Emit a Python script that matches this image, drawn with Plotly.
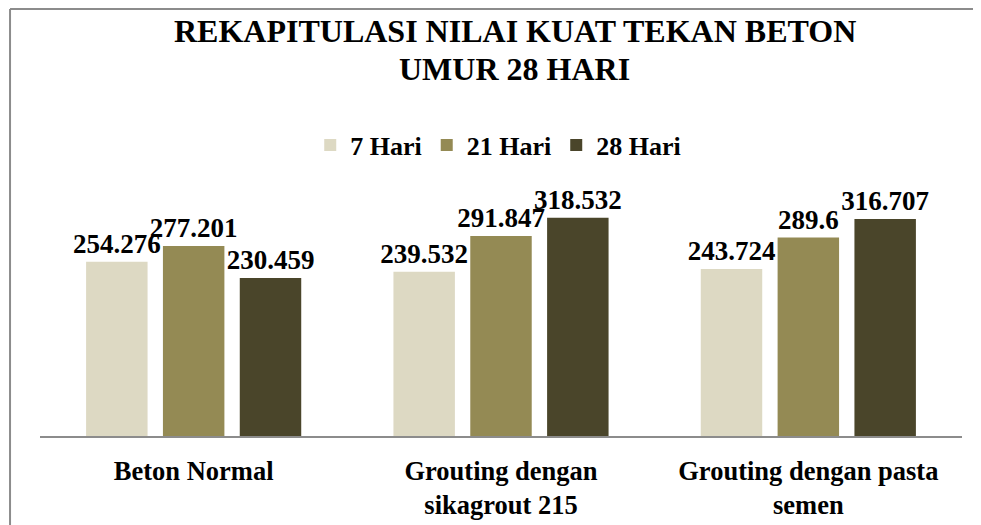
import plotly.graph_objects as go

categories = ["Beton Normal", "Grouting dengan<br>sikagrout 215", "Grouting dengan pasta<br>semen"]
series_names = ["7 Hari", "21 Hari", "28 Hari"]
vals_7 = [254.276, 239.532, 243.724]
vals_21 = [277.201, 291.847, 289.6]
vals_28 = [230.459, 318.532, 316.707]
colors = ["#DDD9C3", "#948A54", "#4A452A"]
title_lines = ["REKAPITULASI NILAI KUAT TEKAN BETON", "UMUR 28 HARI"]

FONT = "Liberation Serif"

fig = go.Figure()
for name, vals, col in zip(series_names, [vals_7, vals_21, vals_28], colors):
    fig.add_trace(go.Bar(
        x=categories, y=vals, name=name,
        marker=dict(color=col, line=dict(width=0)),
        text=[f"{v:g}" for v in vals],
        textposition="outside",
        constraintext="none",
        cliponaxis=False,
        textfont=dict(family=FONT, size=27, color="black", weight="bold"),
    ))

# page body has an 8px margin: figure is 973x517, drawn at (8, 8)
fig.update_layout(
    width=973, height=517,
    margin=dict(l=32, r=19, t=195, b=89, autoexpand=False),
    paper_bgcolor="white", plot_bgcolor="white",
    barmode="group", bargap=0.25, bargroupgap=0.2,
    font=dict(family=FONT, color="black"),
    legend=dict(
        orientation="h", x=0.497, xanchor="center", y=1.249, yanchor="middle",
        font=dict(family=FONT, size=26, color="black", weight="bold"),
        bgcolor="rgba(0,0,0,0)", itemclick=False,
    ),
    showlegend=True,
    xaxis=dict(
        showline=True, linecolor="#8C8C8C", linewidth=2, automargin=False,
        showgrid=False, ticks="", ticklabelstandoff=10,
        tickfont=dict(family=FONT, size=26.5, color="black", weight="bold"),
    ),
    yaxis=dict(range=[0, 340], visible=False, showgrid=False, zeroline=False, automargin=False),
    annotations=[
        dict(text=title_lines[0], xref="paper", yref="paper", x=0.515, y=1.739,
             xanchor="center", yanchor="middle", showarrow=False,
             font=dict(family=FONT, size=32, color="black", weight="bold")),
        dict(text=title_lines[1], xref="paper", yref="paper", x=0.515, y=1.575,
             xanchor="center", yanchor="middle", showarrow=False,
             font=dict(family=FONT, size=32, color="black", weight="bold")),
    ],
    shapes=[
        dict(type="line", xref="paper", yref="paper", x0=-0.0325, x1=-0.0325, y0=1.8326, y1=-0.5,
             line=dict(color="#8C8C8C", width=2)),
        dict(type="line", xref="paper", yref="paper", x0=-0.0325, x1=1.1, y0=1.8326, y1=1.8326,
             line=dict(color="#8C8C8C", width=2)),
    ],
)

fig.write_html("out.html")
